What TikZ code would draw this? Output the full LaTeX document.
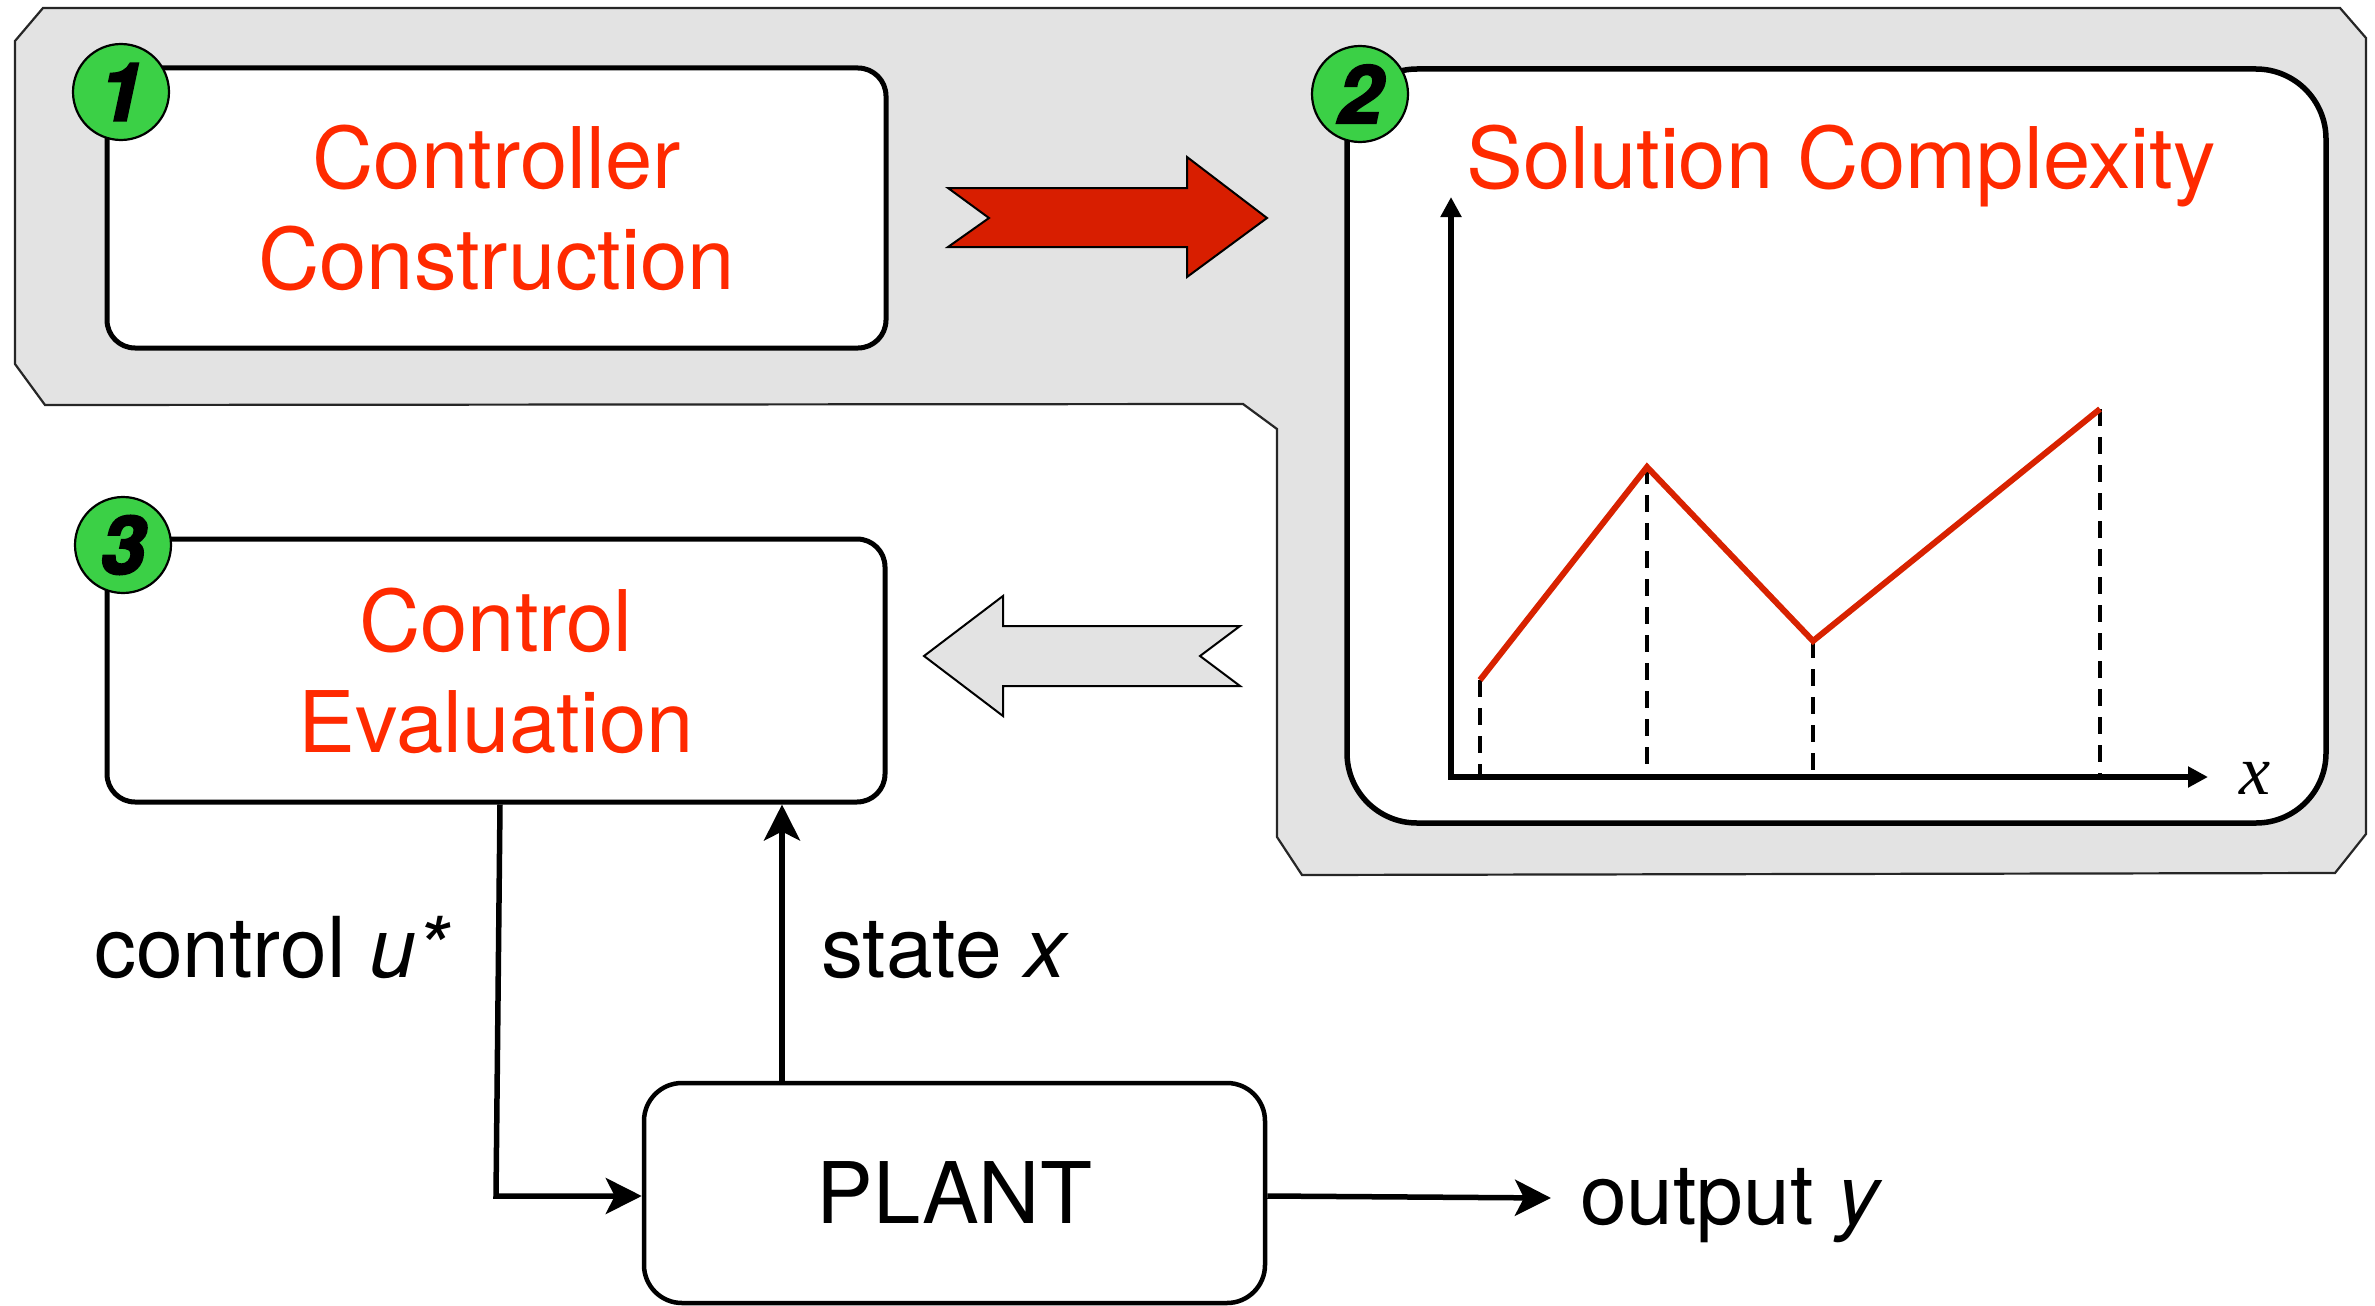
\documentclass[tikz,border=0pt]{standalone}
\usepackage{fontspec}
\setmainfont{TeX Gyre Heros}
\newfontfamily\badgefont{TeX Gyre Heros}[BoldItalicFeatures={FakeBold=3}]
\newfontfamily\axisfont{Liberation Serif}
\usetikzlibrary{arrows.meta,calc}

\definecolor{titlered}{RGB}{255,42,0}
\definecolor{arrowred}{RGB}{216,30,0}
\definecolor{curvered}{RGB}{216,34,0}
\definecolor{panelgray}{RGB}{227,227,227}
\definecolor{badgegreen}{RGB}{59,208,70}

\tikzset{
  panel/.style={fill=panelgray, draw=black!85, line width=2.2pt},
  stagebox/.style={draw=black, fill=white, rounded corners=28pt, line width=5pt,
    align=center, text=titlered, font=\fontsize{85}{101}\selectfont, inner sep=0pt},
  badge/.style={circle, draw=black, line width=2.2pt, fill=badgegreen,
    minimum size=96pt, inner sep=0pt, font=\badgefont\bfseries\itshape\fontsize{80}{80}\selectfont},
  blockarrow/.style={draw=black, line width=2pt, line join=miter},
  axis/.style={line width=5.5pt, {Triangle[length=20pt,width=20pt]}-{Triangle[length=20pt,width=20pt]}},
  curve/.style={draw=curvered, line width=6pt},
  guide/.style={line width=4pt, dash pattern=on 17pt off 11pt},
  flow/.style={line width=5.5pt, -{Stealth[length=36pt,width=36pt,inset=9pt]}},
  label/.style={font=\fontsize{84}{84}\selectfont, anchor=base west, inner sep=0pt}
}

\begin{document}
\begin{tikzpicture}[x=1pt, y=-1pt]
\useasboundingbox (0,0) rectangle (2375,1306);

% grey backdrop behind stages 1 and 2
\draw[panel] (43,8) -- (2340,8) -- (2366,38) -- (2366,834) -- (2335,873)
  -- (1302,875) -- (1277,837) -- (1277,429) -- (1243,404) -- (45,405)
  -- (15,364) -- (15,41) -- cycle;

% stage boxes
\node[stagebox, minimum width=779pt, minimum height=280pt] (construct) at (496.5,208)
  {Controller\\Construction};
\node[draw=black, fill=white, rounded corners=70pt, line width=5.5pt,
  minimum width=979pt, minimum height=754pt, inner sep=0pt] (complexity) at (1836.5,446) {};
\node[stagebox, minimum width=778pt, minimum height=263pt] (evaluate) at (496,670.5)
  {Control\\Evaluation};
\node[draw=black, fill=white, rounded corners=38pt, line width=4.5pt,
  minimum width=621pt, minimum height=220pt, inner sep=0pt,
  font=\fontsize{85}{85}\selectfont] (plant) at (954.5,1193) {PLANT};

% title of stage 2
\node[anchor=base, text=titlered, font=\fontsize{85}{85}\selectfont, inner sep=0pt]
  (complexitytitle) at (1841,188) {Solution Complexity};

% numbered badges
\node[badge] (b1) at (121,92) {1};
\node[badge] (b2) at (1360,94) {2};
\node[badge] (b3) at (123,545) {3};

% block arrows between the stages
\draw[blockarrow, fill=arrowred] (948,188) -- (989,218) -- (948,247) -- (1187,247)
  -- (1187,277) -- (1267,218) -- (1187,157) -- (1187,188) -- cycle;
\draw[blockarrow, fill=panelgray] (924,656) -- (1003,596) -- (1003,626) -- (1240,626)
  -- (1200,656) -- (1240,686) -- (1003,686) -- (1003,716) -- cycle;

% complexity sketch
\coordinate (origin) at (1451,777);
\coordinate (ytop) at (1451,197);
\coordinate (xend) at (2208,777);
\coordinate (p1) at (1480,680);
\coordinate (p2) at (1647,467);
\coordinate (p3) at (1813,641);
\coordinate (p4) at (2100,409);
\foreach \p in {p1,p2,p3,p4} \draw[guide] (\p) -- (\p |- origin);
\draw[curve] (p1) -- (p2) -- (p3) -- (p4);
\draw[axis] (ytop) -- (origin) -- (xend);
\node[font=\axisfont\itshape\fontsize{70}{70}\selectfont, inner sep=0pt] (xlab) at (2255,778) {x};

% feedback loop
\coordinate (cbend) at (496,1196);
\coordinate (sx) at (782,950);
\coordinate (yend) at (1551,1198);
\draw[flow] ($(evaluate.south)+(4,0)$) -- (cbend) -- (cbend -| plant.west);
\draw[flow] (plant.north -| sx) -- (evaluate.south -| sx);
\draw[flow] (plant.east |- cbend) -- (yend);

\node[label] (ulab) at (94,977) {control \textit{u*}};
\node[label] (xstate) at (821,977) {state \textit{x}};
\node[label] (ylab) at (1580,1224) {output \textit{y}};
\end{tikzpicture}
\end{document}
